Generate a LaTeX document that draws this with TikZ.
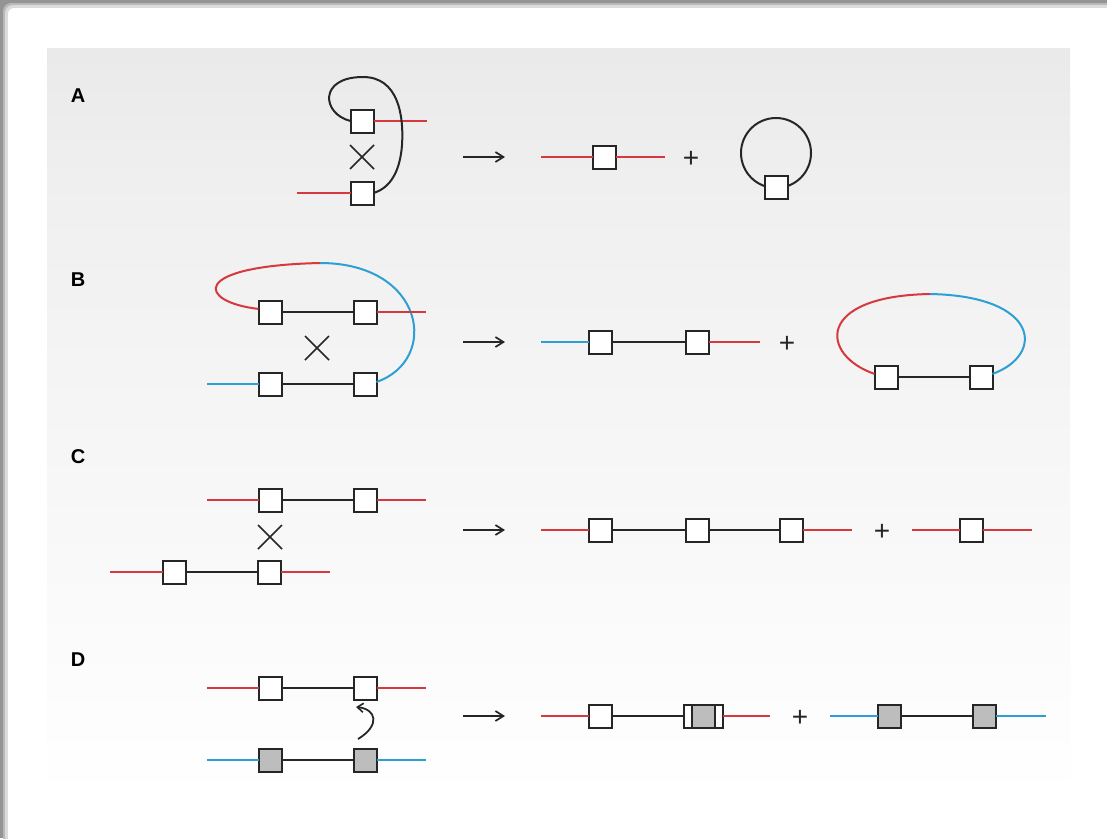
\documentclass[tikz,border=0pt]{standalone}
\usepackage{fontspec}
\setmainfont{Liberation Sans}
\usetikzlibrary{arrows.meta,calc}
\definecolor{sred}{HTML}{D6383D}
\definecolor{sblue}{HTML}{2C9FD5}
\definecolor{sdark}{HTML}{262626}
\definecolor{sgray}{HTML}{BDBDBD}
\pgfdeclareverticalshading{panelshade}{100bp}{color(0bp)=(white); color(25bp)=(white); color(65bp)=(black!6); color(100bp)=(black!14)}
\begin{document}
\begin{tikzpicture}[x=1pt,y=-1pt,
  gene/.style={draw=sdark,line width=2pt,fill=white,minimum size=23pt,inner sep=0pt,outer sep=0pt},
  ggene/.style={gene,fill=sgray},
  rstrand/.style={draw=sred,line width=2pt},
  bstrand/.style={draw=sblue,line width=2pt},
  kstrand/.style={draw=sdark,line width=2pt},
  xmark/.style={draw=sdark,line width=1.7pt},
  rarrow/.style={draw=sdark,line width=1.7pt,-{Straight Barb[length=8pt,width=10pt,line width=1.7pt]}},
  plus/.style={font=\fontsize{28}{28}\selectfont,text=sdark,inner sep=0pt,yshift=-2pt},
  lbl/.style={font=\fontsize{20}{20}\selectfont\bfseries,text=black,inner sep=0pt}
]
\useasboundingbox (0,0) rectangle (1107,838);
% frame and panel
\fill[black!42] (0,0) rectangle (1107,838);
\fill[black!28,rounded corners=8pt] (3,3) rectangle (1125,850);
\fill[black!14,rounded corners=8pt] (5,5) rectangle (1125,850);
\fill[white,rounded corners=6pt] (8,8) rectangle (1125,850);
\shade[shading=panelshade] (47,48) rectangle (1070,800);

% labels
\node[lbl] (la) at (78,96) {A};
\node[lbl] (lb) at (78,280) {B};
\node[lbl] (lc) at (78,457) {C};
\node[lbl] (ld) at (78,660) {D};

% ---------- Row A ----------
\node[gene] (a1) at (362,121) {};
\node[gene] (a2) at (362,193) {};
\coordinate (a1r) at (427,121);
\coordinate (a2l) at (297,193);
\draw[rstrand] (a1.east) -- (a1r);
\draw[rstrand] (a2l) -- (a2.west);
\draw[kstrand] (a1.west) .. controls (322,114) and (318,77) .. (363,77)
  .. controls (398,77) and (404,115) .. (402,145)
  .. controls (400,172) and (390,188) .. (a2.east);
\coordinate (ax) at (362,157);
\draw[xmark] ($(ax)+(-12,-12)$) -- ($(ax)+(12,12)$);
\draw[xmark] ($(ax)+(-12,12)$) -- ($(ax)+(12,-12)$);
\coordinate (aa1) at (463,157);
\coordinate (aa2) at (505,157);
\draw[rarrow] (aa1) -- (aa2);
\node[gene] (a3) at (604,157) {};
\coordinate (a3l) at (541,157);
\coordinate (a3r) at (665,157);
\draw[rstrand] (a3l) -- (a3.west);
\draw[rstrand] (a3.east) -- (a3r);
\node[plus] (pa) at (691,157) {+};
\coordinate (ac) at (776,153);
\draw[kstrand] (ac) circle (35);
\node[gene] (a4) at (776,187) {};

% ---------- Row B ----------
\node[gene] (b1) at (270,312) {};
\node[gene] (b2) at (365,312) {};
\node[gene] (b3) at (270,384) {};
\node[gene] (b4) at (365,384) {};
\coordinate (b2r) at (426,312);
\coordinate (b3l) at (207,384);
\coordinate (btop) at (320,263);
\draw[kstrand] (b1) -- (b2);
\draw[kstrand] (b3) -- (b4);
\draw[bstrand] (btop) .. controls (425,263) and (440,360) .. (b4.10);
\draw[rstrand] (b2.east) -- (b2r);
\draw[bstrand] (b3l) -- (b3.west);
\draw[rstrand] (b1.165) .. controls (198,302) and (188,266) .. (btop);
\coordinate (bx) at (317,348);
\draw[xmark] ($(bx)+(-12,-12)$) -- ($(bx)+(12,12)$);
\draw[xmark] ($(bx)+(-12,12)$) -- ($(bx)+(12,-12)$);
\coordinate (ba1) at (463,342);
\coordinate (ba2) at (505,342);
\draw[rarrow] (ba1) -- (ba2);
\node[gene] (b5) at (600,342) {};
\node[gene] (b6) at (697,342) {};
\coordinate (b5l) at (541,342);
\coordinate (b6r) at (760,342);
\draw[bstrand] (b5l) -- (b5.west);
\draw[kstrand] (b5) -- (b6);
\draw[rstrand] (b6.east) -- (b6r);
\node[plus] (pb) at (787,342) {+};
\node[gene] (b7) at (886,377) {};
\node[gene] (b8) at (981,377) {};
\coordinate (btop2) at (930,294);
\draw[kstrand] (b7) -- (b8);
\draw[rstrand] (b7.165) .. controls (820,355) and (815,296) .. (btop2);
\draw[bstrand] (btop2) .. controls (1040,296) and (1045,355) .. (b8.15);

% ---------- Row C ----------
\node[gene] (c1) at (270,500) {};
\node[gene] (c2) at (365,500) {};
\coordinate (c1l) at (207,500);
\coordinate (c2r) at (426,500);
\draw[rstrand] (c1l) -- (c1.west);
\draw[kstrand] (c1) -- (c2);
\draw[rstrand] (c2.east) -- (c2r);
\coordinate (cx) at (270,537);
\draw[xmark] ($(cx)+(-12,-12)$) -- ($(cx)+(12,12)$);
\draw[xmark] ($(cx)+(-12,12)$) -- ($(cx)+(12,-12)$);
\node[gene] (c3) at (174,572) {};
\node[gene] (c4) at (269,572) {};
\coordinate (c3l) at (110,572);
\coordinate (c4r) at (330,572);
\draw[rstrand] (c3l) -- (c3.west);
\draw[kstrand] (c3) -- (c4);
\draw[rstrand] (c4.east) -- (c4r);
\coordinate (ca1) at (463,530);
\coordinate (ca2) at (505,530);
\draw[rarrow] (ca1) -- (ca2);
\node[gene] (c5) at (600,530) {};
\node[gene] (c6) at (697,530) {};
\node[gene] (c7) at (791,530) {};
\coordinate (c5l) at (541,530);
\coordinate (c7r) at (852,530);
\draw[rstrand] (c5l) -- (c5.west);
\draw[kstrand] (c5) -- (c6);
\draw[kstrand] (c6) -- (c7);
\draw[rstrand] (c7.east) -- (c7r);
\node[plus] (pc) at (882,530) {+};
\node[gene] (c8) at (971,530) {};
\coordinate (c8l) at (912,530);
\coordinate (c8r) at (1032,530);
\draw[rstrand] (c8l) -- (c8.west);
\draw[rstrand] (c8.east) -- (c8r);

% ---------- Row D ----------
\node[gene] (d1) at (270,688) {};
\node[gene] (d2) at (365,688) {};
\coordinate (d1l) at (207,688);
\coordinate (d2r) at (426,688);
\draw[rstrand] (d1l) -- (d1.west);
\draw[kstrand] (d1) -- (d2);
\draw[rstrand] (d2.east) -- (d2r);
\node[ggene] (d3) at (270,760) {};
\node[ggene] (d4) at (365,760) {};
\coordinate (d3l) at (207,760);
\coordinate (d4r) at (426,760);
\draw[bstrand] (d3l) -- (d3.west);
\draw[kstrand] (d3) -- (d4);
\draw[bstrand] (d4.east) -- (d4r);
\coordinate (dc1) at (358,739);
\coordinate (dc2) at (356,707);
\draw[draw=sdark,line width=1.8pt,-{Straight Barb[length=6pt,width=9pt,line width=1.6pt]}] (dc1) .. controls (381,725) and (376,709) .. (dc2);
\coordinate (da1) at (463,716);
\coordinate (da2) at (505,716);
\draw[rarrow] (da1) -- (da2);
\node[gene] (d5) at (600,716) {};
\node[gene,minimum width=39pt,minimum height=23pt] (d6) at (703,716) {};
\node[ggene] (d6g) at (703,716) {};
\coordinate (d5l) at (541,716);
\coordinate (d6r) at (770,716);
\draw[rstrand] (d5l) -- (d5.west);
\draw[kstrand] (d5) -- (d6);
\draw[rstrand] (d6.east) -- (d6r);
\node[plus] (pd) at (800,716) {+};
\node[ggene] (d7) at (889,716) {};
\node[ggene] (d8) at (984,716) {};
\coordinate (d7l) at (830,716);
\coordinate (d8r) at (1046,716);
\draw[bstrand] (d7l) -- (d7.west);
\draw[kstrand] (d7) -- (d8);
\draw[bstrand] (d8.east) -- (d8r);
\end{tikzpicture}
\end{document}
